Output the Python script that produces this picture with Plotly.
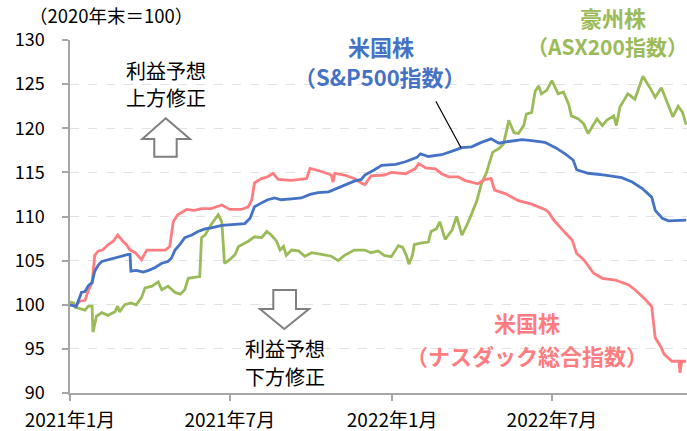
import plotly.graph_objects as go

# ---------------- data ----------------
sp500_dates = ["2021-01-01","2021-01-08","2021-01-14","2021-01-18","2021-01-22","2021-01-26","2021-01-29",
    "2021-02-02","2021-02-06","2021-02-13","2021-02-21","2021-02-28","2021-03-08","2021-03-10","2021-03-11",
    "2021-03-17","2021-03-25","2021-03-31","2021-04-07","2021-04-15","2021-04-22","2021-04-26","2021-04-30",
    "2021-05-06","2021-05-11","2021-05-19","2021-05-26","2021-06-03","2021-06-10","2021-06-22","2021-07-07",
    "2021-07-18","2021-07-24","2021-07-27","2021-07-29","2021-08-07","2021-08-13","2021-08-21","2021-08-28",
    "2021-09-09","2021-09-20","2021-09-30","2021-10-09","2021-10-21","2021-10-28","2021-11-08","2021-11-19",
    "2021-11-27","2021-12-01","2021-12-12","2021-12-20","2022-01-05","2022-01-16","2022-01-29","2022-02-02",
    "2022-02-11","2022-02-26","2022-03-10","2022-03-21","2022-04-01","2022-04-12","2022-04-23","2022-05-02",
    "2022-05-13","2022-05-28","2022-06-08","2022-06-23","2022-07-05","2022-07-16","2022-07-25","2022-07-29",
    "2022-08-11","2022-08-30","2022-09-18","2022-09-30","2022-10-11","2022-10-22","2022-10-26","2022-11-03",
    "2022-11-10","2022-11-30"]
sp500_values = [100.0,99.8,101.4,101.5,102.2,102.5,103.8,
    104.5,104.9,105.1,105.3,105.5,105.7,105.7,103.8,
    103.9,103.7,103.9,104.2,104.7,104.9,105.3,106.2,
    106.9,107.6,107.9,108.3,108.6,108.7,109.0,109.1,
    109.2,109.8,110.6,111.1,111.6,111.9,112.1,111.9,
    112.0,112.1,112.5,112.7,112.8,113.1,113.6,114.0,
    114.2,114.7,115.3,115.8,115.9,116.2,116.7,117.1,
    116.8,117.0,117.4,117.8,117.9,118.4,118.8,118.3,
    118.5,118.7,118.6,118.4,117.8,117.1,116.4,115.3,
    114.9,114.7,114.4,113.9,113.2,112.2,110.7,109.8,
    109.5,109.6]

nasdaq_dates = ["2021-01-01","2021-01-07","2021-01-12","2021-01-18","2021-01-22","2021-01-26","2021-01-29",
    "2021-02-02","2021-02-07","2021-02-13","2021-02-19","2021-02-24","2021-03-02","2021-03-06","2021-03-10",
    "2021-03-16","2021-03-23","2021-03-29","2021-04-07","2021-04-19","2021-04-24","2021-04-28","2021-05-03",
    "2021-05-13","2021-05-22","2021-05-30","2021-06-10","2021-06-22","2021-07-01","2021-07-14","2021-07-22",
    "2021-07-26","2021-07-29","2021-08-06","2021-08-13","2021-08-19","2021-08-25","2021-09-09","2021-09-26",
    "2021-09-30","2021-10-13","2021-10-24","2021-10-26","2021-10-28","2021-11-08","2021-11-19","2021-11-27",
    "2021-12-01","2021-12-08","2021-12-23","2021-12-31","2022-01-16","2022-01-27","2022-01-31","2022-02-08",
    "2022-02-19","2022-02-26","2022-03-06","2022-03-17","2022-03-24","2022-04-08","2022-04-16","2022-04-23",
    "2022-04-27","2022-05-09","2022-05-24","2022-06-08","2022-06-23","2022-06-27","2022-07-03","2022-07-12",
    "2022-07-24","2022-07-29","2022-08-06","2022-08-17","2022-08-27","2022-09-11","2022-09-26","2022-10-03",
    "2022-10-15","2022-10-22","2022-10-26","2022-11-01","2022-11-05","2022-11-14","2022-11-22","2022-11-23",
    "2022-11-25","2022-11-30"]
nasdaq_values = [100.0,99.85,100.4,100.5,101.7,102.5,105.6,
    106.1,106.2,106.8,107.2,107.9,107.2,106.8,106.2,
    105.9,105.1,106.2,106.2,106.2,106.6,109.4,110.2,
    110.8,110.7,110.9,110.9,111.3,110.8,110.8,111.1,
    111.9,113.8,114.3,114.5,114.9,114.2,114.1,114.3,
    115.45,115.1,114.7,113.9,114.9,114.7,114.3,113.8,
    113.6,114.6,114.7,115.0,114.85,115.4,116.0,115.5,
    115.4,114.85,114.5,114.5,114.1,113.7,114.2,114.3,
    113.0,112.6,111.8,111.4,110.8,110.5,109.6,108.6,
    107.3,105.8,105.1,103.6,103.0,102.8,102.25,101.7,
    100.6,99.8,96.25,95.3,94.4,93.6,93.6,92.3,
    93.6,93.6]

asx_dates = ["2021-01-01","2021-01-05","2021-01-07","2021-01-12","2021-01-18","2021-01-22","2021-01-26",
    "2021-01-27","2021-01-31","2021-02-06","2021-02-13","2021-02-21","2021-02-24","2021-02-26","2021-03-04",
    "2021-03-11","2021-03-17","2021-03-23","2021-03-27","2021-04-04","2021-04-11","2021-04-15","2021-04-22",
    "2021-04-30","2021-05-06","2021-05-11","2021-05-15","2021-05-22","2021-05-28","2021-05-30","2021-06-03",
    "2021-06-10","2021-06-18","2021-06-22","2021-06-25","2021-07-01","2021-07-07","2021-07-11","2021-07-22",
    "2021-07-29","2021-08-06","2021-08-12","2021-08-17","2021-08-23","2021-08-27","2021-08-31","2021-09-03",
    "2021-09-09","2021-09-17","2021-09-24","2021-10-02","2021-10-13","2021-10-24","2021-11-01","2021-11-08",
    "2021-11-19","2021-12-01","2021-12-08","2021-12-16","2021-12-23","2021-12-31","2022-01-08","2022-01-13",
    "2022-01-17","2022-01-20","2022-01-24","2022-01-26","2022-02-03","2022-02-11","2022-02-14","2022-02-20",
    "2022-02-24","2022-03-02","2022-03-10","2022-03-15","2022-03-21","2022-03-27","2022-04-01","2022-04-07",
    "2022-04-12","2022-04-18","2022-04-22","2022-04-25","2022-05-02","2022-05-07","2022-05-11","2022-05-13",
    "2022-05-19","2022-05-24","2022-05-30","2022-06-02","2022-06-08","2022-06-12","2022-06-16","2022-06-19",
    "2022-06-25","2022-07-01","2022-07-08","2022-07-14","2022-07-20","2022-07-23","2022-07-31","2022-08-06",
    "2022-08-11","2022-08-17","2022-08-21","2022-08-27","2022-09-01","2022-09-09","2022-09-12","2022-09-16",
    "2022-09-25","2022-10-03","2022-10-12","2022-10-20","2022-10-26","2022-11-02","2022-11-08","2022-11-15",
    "2022-11-21","2022-11-26","2022-11-30"]
asx_values = [100.3,100.2,99.7,99.55,99.4,99.85,99.85,
    96.9,98.7,99.1,98.8,99.2,99.85,99.2,100.0,
    100.2,100.0,100.8,101.9,102.1,102.6,101.7,102.1,
    101.4,101.2,101.7,103.0,103.1,103.2,107.6,107.9,
    109.1,110.2,109.4,104.7,105.1,105.7,106.6,107.2,
    107.7,107.6,108.3,107.9,107.2,106.2,106.6,105.6,
    106.2,106.1,105.5,105.9,105.7,105.5,105.0,105.6,
    106.2,106.2,105.9,106.1,105.6,105.45,106.7,106.5,
    105.6,104.6,105.6,106.8,107.0,107.1,108.3,108.6,
    109.4,107.4,108.5,110.0,107.9,109.1,110.3,111.8,
    113.7,115.0,116.35,117.3,117.7,118.2,119.9,120.9,
    119.5,119.4,120.3,121.6,121.8,124.2,124.8,123.9,
    124.3,125.4,123.9,124.1,122.7,121.4,121.05,120.5,
    119.4,120.3,121.05,120.3,120.9,121.4,120.3,122.4,
    123.9,123.3,125.9,124.6,123.5,124.6,123.1,121.3,
    122.5,121.8,120.4]

tick_dates = ["2021-01-01", "2021-07-01", "2022-01-01", "2022-07-01"]
tick_labels = ["2021年1月", "2021年7月", "2022年1月", "2022年7月"]

BLUE = "#4472C4"
GREEN = "#9BBB59"
PINK = "#FF7C80"
FONT = "Noto Sans CJK JP"

fig = go.Figure()
fig.add_trace(go.Scatter(x=asx_dates, y=asx_values, mode="lines",
                         line=dict(color=GREEN, width=2.8), name="豪州株（ASX200指数）"))
fig.add_trace(go.Scatter(x=nasdaq_dates, y=nasdaq_values, mode="lines",
                         line=dict(color=PINK, width=2.8), name="米国株（ナスダック総合指数）"))
fig.add_trace(go.Scatter(x=sp500_dates, y=sp500_values, mode="lines",
                         line=dict(color=BLUE, width=2.8), name="米国株（S&P500指数）"))

fig.update_layout(
    width=687, height=431,
    margin=dict(l=70, r=0, t=40, b=38),
    paper_bgcolor="white", plot_bgcolor="white",
    showlegend=False,
    font=dict(family=FONT, size=17, color="#000000"),
    xaxis=dict(type="date", range=["2021-01-01", "2022-12-01"], automargin=False,
               tickmode="array", tickvals=tick_dates, ticktext=tick_labels,
               ticks="outside", ticklen=6, tickcolor="#a6a6a6", tickwidth=1.5,
               showline=True, linecolor="#a6a6a6", linewidth=1.5,
               showgrid=False, zeroline=False, ticklabelstandoff=3,
               tickfont=dict(family=FONT, size=19, color="#000000")),
    yaxis=dict(range=[90, 130], dtick=5, tick0=90, automargin=False,
               ticks="outside", ticklen=6, tickcolor="#a6a6a6", tickwidth=1.5,
               showline=True, linecolor="#a6a6a6", linewidth=1.5,
               showgrid=True, gridcolor="#e3e3e3", griddash="dash", gridwidth=1,
               zeroline=False, ticklabelstandoff=14,
               tickfont=dict(family=FONT, size=18, color="#000000")),
)

# unit label
fig.add_annotation(xref="paper", yref="paper", x=-0.07, y=1.072, xanchor="left", yanchor="middle",
                   text="（2020年末＝100）", showarrow=False, font=dict(size=18.5, color="#000000"))

# earnings revision captions
for x, y, t in [(0.155, 0.915, "利益予想"), (0.155, 0.836, "上方修正"),
                (0.348, 0.127, "利益予想"), (0.348, 0.046, "下方修正")]:
    fig.add_annotation(xref="paper", yref="paper", x=x, y=y, text=t, showarrow=False,
                       font=dict(size=20, color="#000000"), xanchor="center", yanchor="middle")

# outline arrows
fig.add_shape(type="path", xref="paper", yref="paper",
              path="M 0.1551 0.7782 L 0.1945 0.7195 L 0.1729 0.7195 L 0.1729 0.6694 "
                   "L 0.1366 0.6694 L 0.1366 0.7195 L 0.1172 0.7195 Z",
              line=dict(color="#7f7f7f", width=2), fillcolor="white")
fig.add_shape(type="path", xref="paper", yref="paper",
              path="M 0.3295 0.2918 L 0.3663 0.2918 L 0.3663 0.2380 L 0.3874 0.2380 "
                   "L 0.3473 0.1813 L 0.3079 0.2380 L 0.3295 0.2380 Z",
              line=dict(color="#7f7f7f", width=2), fillcolor="white")

# series labels
def lab(x, y, text, color, size=22):
    fig.add_annotation(xref="paper", yref="paper", x=x, y=y, text="<b>%s</b>" % text, showarrow=False,
                       font=dict(size=size, color=color), xanchor="center", yanchor="middle")

lab(0.504, 0.982, "米国株", BLUE)
lab(0.502, 0.897, "（S&P500指数）", BLUE)
lab(0.880, 1.065, "豪州株", GREEN)
lab(0.871, 0.982, "（ASX200指数）", GREEN, 21)
lab(0.741, 0.201, "米国株", PINK)
lab(0.741, 0.108, "（ナスダック総合指数）", PINK)

# leader line to the S&P500 series
fig.add_annotation(x="2022-03-20", y=117.8, xref="x", yref="y", text="", showarrow=True,
                   arrowhead=0, arrowwidth=1.2, arrowcolor="#000000", ax=-26, ay=-48,
                   standoff=0)

fig.write_html("out.html", config={"displayModeBar": False},
               post_script="document.body.style.margin='0';document.body.style.overflow='hidden';")
